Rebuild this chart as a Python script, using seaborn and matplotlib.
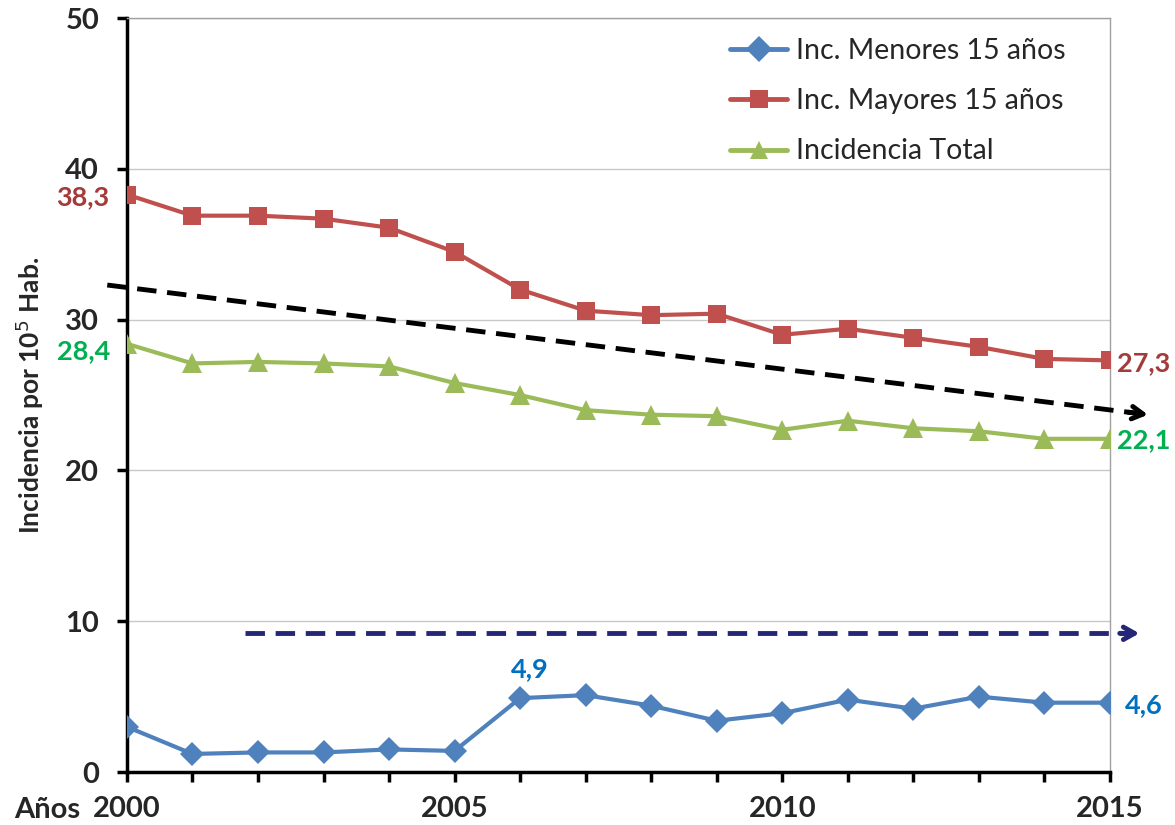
import pandas as pd
import matplotlib
matplotlib.use("Agg")
import matplotlib.pyplot as plt
import seaborn as sns

years = list(range(2000, 2016))
menores = [3.0, 1.2, 1.3, 1.3, 1.5, 1.4, 4.9, 5.1, 4.4, 3.4, 3.9, 4.8, 4.2, 5.0, 4.6, 4.6]
mayores = [38.3, 36.9, 36.9, 36.7, 36.1, 34.5, 32.0, 30.6, 30.3, 30.4, 29.0, 29.4, 28.8, 28.2, 27.4, 27.3]
total = [28.4, 27.1, 27.2, 27.1, 26.9, 25.8, 25.0, 24.0, 23.7, 23.6, 22.7, 23.3, 22.8, 22.6, 22.1, 22.1]
series_names = ['Inc. Menores 15 años', 'Inc. Mayores 15 años', 'Incidencia Total']
x_labels = ['2000', '2005', '2010', '2015']

# trend arrows drawn on top (start / end in data coords)
trend_black = [(1999.7, 32.3), (2015.58, 23.7)]
trend_blue = [(2001.8, 9.2), (2015.45, 9.2)]

df = pd.DataFrame({
    'year': years * 3,
    'value': menores + mayores + total,
    'serie': [series_names[0]] * 16 + [series_names[1]] * 16 + [series_names[2]] * 16,
})

sns.set_style('white')
plt.rcParams['font.family'] = ['Lato', 'DejaVu Sans']

palette = {series_names[0]: '#4F81BD', series_names[1]: '#C0504D', series_names[2]: '#9BBB59'}
markers = {series_names[0]: 'D', series_names[1]: 's', series_names[2]: '^'}

fig = plt.figure(figsize=(11.75, 8.25), dpi=100)
ax = fig.add_axes([0.108, 0.0642, 0.8366, 0.9138])

sns.lineplot(data=df, x='year', y='value', hue='serie', style='serie', palette=palette,
             markers=markers, dashes=False, linewidth=3, markersize=13,
             markeredgewidth=0, ax=ax, zorder=3)
# diamonds/triangles a little larger than squares, as in the original
for line, ms in zip(ax.get_lines()[:3], [12.5, 13, 14.5]):
    line.set_markersize(ms)

ax.set_xlim(2000, 2015)
ax.set_ylim(0, 50)
ax.set_xticks(years)
ax.set_xticklabels([str(y) if str(y) in x_labels else '' for y in years])
ax.set_yticks([0, 10, 20, 30, 40, 50])
ax.tick_params(axis='both', direction='out', length=7, width=2.5, color='black',
               labelsize=21, bottom=True, left=True)
ax.tick_params(axis='x', pad=10)
ax.tick_params(axis='y', pad=13)
for lab in ax.get_xticklabels() + ax.get_yticklabels():
    lab.set_fontweight('bold')
ax.grid(axis='y', color='#C8C8C8', linewidth=1)
ax.set_axisbelow(True)
for s in ['left', 'bottom']:
    ax.spines[s].set_color('black')
    ax.spines[s].set_linewidth(2.5)
for s in ['top', 'right']:
    ax.spines[s].set_color('#A0A0A0')
    ax.spines[s].set_linewidth(1)

ax.set_xlabel('')
ax.set_ylabel('Incidencia por 10$^5$ Hab.', fontsize=19, fontweight='bold', labelpad=14)
fig.text(0.012, 1 - 810 / 825, 'Años', fontsize=21, fontweight='bold', va='center')

# trend arrows
(bx0, by0), (bx1, by1) = trend_black
ax.plot([bx0, bx1 - 0.08], [by0, by1 + 0.045], color='black', lw=3.5,
        dashes=(4, 2.2), clip_on=False, zorder=4)
ax.annotate('', xy=(bx1, by1), xytext=(bx1 - 0.3, by1 + 0.165),
            arrowprops=dict(arrowstyle='->,head_length=0.8,head_width=0.45', color='black',
                            lw=3.5, shrinkA=0, shrinkB=0), annotation_clip=False, zorder=4)
(ux0, uy0), (ux1, uy1) = trend_blue
ax.plot([ux0, ux1 - 0.08], [uy0, uy1], color='#262678', lw=3.5,
        dashes=(4, 2.2), clip_on=False, zorder=4)
ax.annotate('', xy=(ux1, uy1), xytext=(ux1 - 0.3, uy1),
            arrowprops=dict(arrowstyle='->,head_length=0.8,head_width=0.45', color='#262678',
                            lw=3.5, shrinkA=0, shrinkB=0), annotation_clip=False, zorder=4)

# data labels
lab_kw = dict(fontsize=19.5, fontweight='bold', va='center')
ax.annotate(f'{mayores[0]:.1f}'.replace('.', ','), (years[0], mayores[0]), xytext=(-13, -2),
            textcoords='offset points', ha='right', color='#A33B3B', **lab_kw)
ax.annotate(f'{total[0]:.1f}'.replace('.', ','), (years[0], total[0]), xytext=(-12, -5),
            textcoords='offset points', ha='right', color='#00B050', **lab_kw)
ax.annotate(f'{mayores[-1]:.1f}'.replace('.', ','), (years[-1], mayores[-1]), xytext=(5, -2),
            textcoords='offset points', ha='left', color='#A33B3B', annotation_clip=False, **lab_kw)
ax.annotate(f'{total[-1]:.1f}'.replace('.', ','), (years[-1], total[-1]), xytext=(5, -1),
            textcoords='offset points', ha='left', color='#00B050', annotation_clip=False, **lab_kw)
ax.annotate(f'{menores[-1]:.1f}'.replace('.', ','), (years[-1], menores[-1]), xytext=(11, -2),
            textcoords='offset points', ha='left', color='#0070C0', annotation_clip=False, **lab_kw)
ax.annotate(f'{menores[6]:.1f}'.replace('.', ','), (years[6], menores[6]), xytext=(7, 21),
            textcoords='offset points', ha='center', color='#0070C0', **lab_kw)

leg = ax.legend(loc='upper right', bbox_to_anchor=(0.975, 1.0), frameon=False, fontsize=20.5,
                handlelength=2.0, handletextpad=0.3, labelspacing=0.85, borderaxespad=0.3)
for h in leg.legend_handles:
    h.set_linewidth(3.5)
    h.set_markersize(13)

fig.savefig('out.png', dpi=100)
